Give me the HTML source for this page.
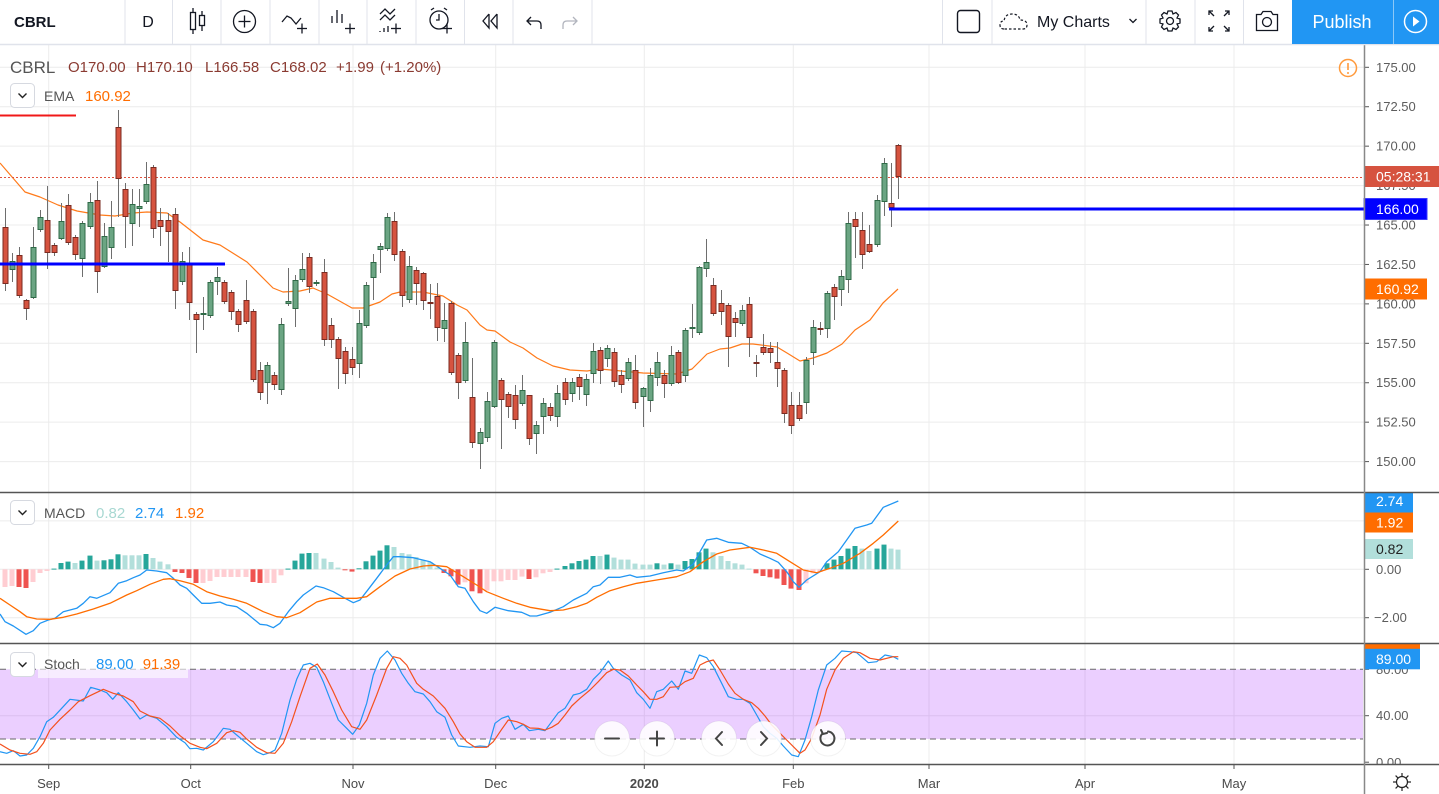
<!DOCTYPE html>
<html><head><meta charset="utf-8"><title>CBRL</title>
<style>
html,body{margin:0;padding:0;background:#fff;}
body{width:1439px;height:794px;overflow:hidden;font-family:"Liberation Sans",sans-serif;}
svg{display:block;font-family:"Liberation Sans",sans-serif;}
</style></head>
<body>
<svg id="c" xmlns="http://www.w3.org/2000/svg" width="1439" height="794" viewBox="0 0 1439 794">
<rect x="0" y="0" width="1439" height="794" fill="#fff"/>
<g id="grid" stroke="#ececec" stroke-width="1"></g>
<g id="band"></g>
<g id="ema"></g>
<!-- left red short line & blue line & price line -->
<line x1="0" y1="115.5" x2="76" y2="115.5" stroke="#f01818" stroke-width="2"/>
<line x1="0" y1="177.5" x2="1364" y2="177.5" stroke="#e0533f" stroke-width="1" stroke-dasharray="2,2"/>
<g id="wicks"></g>
<g id="bodies"></g>
<line x1="0" y1="264" x2="225" y2="264" stroke="#0000ff" stroke-width="3"/>
<line x1="889" y1="209" x2="1364" y2="209" stroke="#0000ff" stroke-width="3"/>
<g id="hist"></g>
<g id="macdl"></g>
<g id="stochl"></g>

<!-- legends -->
<text x="10" y="73" font-size="17" fill="#555">CBRL</text>
<g font-size="15" fill="#8a3a31">
<text x="68" y="72">O170.00</text>
<text x="136" y="72">H170.10</text>
<text x="205" y="72">L166.58</text>
<text x="270" y="72">C168.02</text>
<text x="336" y="72">+1.99</text>
<text x="380" y="72">(+1.20%)</text>
</g>
<rect x="10.5" y="83.5" width="24" height="24" rx="4" fill="#fff" stroke="#d6d9e0"/>
<polyline points="18.5,93.5 22.5,97.5 26.5,93.5" fill="none" stroke="#222" stroke-width="1.4"/>
<text x="44" y="101" font-size="14" fill="#555">EMA</text>
<text x="85" y="101" font-size="15" fill="#ff6d00">160.92</text>

<rect x="10.5" y="500.5" width="24" height="24" rx="4" fill="#fff" stroke="#d6d9e0"/>
<polyline points="18.5,510.5 22.5,514.5 26.5,510.5" fill="none" stroke="#222" stroke-width="1.4"/>
<text x="44" y="518" font-size="14" fill="#555">MACD</text>
<text x="96" y="518" font-size="15" fill="#a8d8d2">0.82</text>
<text x="135" y="518" font-size="15" fill="#2196f3">2.74</text>
<text x="175" y="518" font-size="15" fill="#ff6d00">1.92</text>

<rect x="38" y="656" width="150" height="22" fill="rgba(255,255,255,0.6)"/>
<rect x="10.5" y="652.5" width="24" height="24" rx="4" fill="#fff" stroke="#d6d9e0"/>
<polyline points="18.5,662.5 22.5,666.5 26.5,662.5" fill="none" stroke="#222" stroke-width="1.4"/>
<text x="44" y="669" font-size="14" fill="#555">Stoch</text>
<text x="96" y="669" font-size="15" fill="#2196f3">89.00</text>
<text x="142.7" y="669" font-size="15" fill="#ff6d00">91.39</text>

<!-- alert icon -->
<circle cx="1348" cy="68" r="8.5" fill="none" stroke="#ff9a3c" stroke-width="1.5"/>
<line x1="1348" y1="63" x2="1348" y2="70" stroke="#ff9a3c" stroke-width="1.6"/>
<circle cx="1348" cy="73" r="1" fill="#ff9a3c"/>

<!-- right axis -->
<rect x="1365" y="45" width="74" height="720" fill="#fff"/>
<g id="ticks" stroke="#555" stroke-width="1"></g>
<g font-size="13" fill="#5d5d5d">
<text x="1376" y="71.8">175.00</text>
<text x="1376" y="111.2">172.50</text>
<text x="1376" y="150.6">170.00</text>
<text x="1376" y="190.1">167.50</text>
<text x="1376" y="229.5">165.00</text>
<text x="1376" y="268.9">162.50</text>
<text x="1376" y="308.4">160.00</text>
<text x="1376" y="347.8">157.50</text>
<text x="1376" y="387.2">155.00</text>
<text x="1376" y="426.7">152.50</text>
<text x="1376" y="466.1">150.00</text>
<text x="1376" y="573.8">0.00</text>
<text x="1374" y="622.2">−2.00</text>
<text x="1376" y="673.8">80.00</text>
<text x="1376" y="720.2">40.00</text>
<text x="1376" y="767">0.00</text>
</g>
<rect x="1364" y="166" width="75" height="21" fill="#d6533f"/>
<text x="1376" y="181.5" font-size="14" fill="#fff">05:28:31</text>
<rect x="1364" y="198.5" width="63" height="21" fill="#0000ff" stroke="#3a3aff"/>
<text x="1376" y="214" font-size="14" fill="#fff">166.00</text>
<rect x="1364" y="278.5" width="63" height="21" fill="#ff6d00"/>
<text x="1376" y="294" font-size="14" fill="#fff">160.92</text>

<rect x="1364" y="492.7" width="49" height="20" fill="#2196f3"/>
<text x="1376" y="506" font-size="14" fill="#fff">2.74</text>
<rect x="1364" y="512.5" width="49" height="20" fill="#ff6d00"/>
<text x="1376" y="527.5" font-size="14" fill="#fff">1.92</text>
<rect x="1364" y="539" width="49" height="20" fill="#b2dfdb"/>
<text x="1376" y="554" font-size="14" fill="#222">0.82</text>

<rect x="1364" y="643" width="56" height="12" fill="#ff6d00"/>
<rect x="1364" y="648.8" width="56" height="20.5" fill="#2196f3"/>
<text x="1376" y="664" font-size="14" fill="#fff">89.00</text>

<!-- time axis -->
<rect x="0" y="765" width="1439" height="29" fill="#fff"/>
<g stroke="#555" stroke-width="1">
<line x1="48.7" y1="765" x2="48.7" y2="769"/>
<line x1="190.7" y1="765" x2="190.7" y2="769"/>
<line x1="353" y1="765" x2="353" y2="769"/>
<line x1="495.7" y1="765" x2="495.7" y2="769"/>
<line x1="644.3" y1="765" x2="644.3" y2="769"/>
<line x1="793.3" y1="765" x2="793.3" y2="769"/>
<line x1="929" y1="765" x2="929" y2="769"/>
<line x1="1085" y1="765" x2="1085" y2="769"/>
<line x1="1234" y1="765" x2="1234" y2="769"/>
</g>
<g font-size="13" fill="#4a4a4a" text-anchor="middle">
<text x="48.7" y="788">Sep</text>
<text x="190.7" y="788">Oct</text>
<text x="353" y="788">Nov</text>
<text x="495.7" y="788">Dec</text>
<text x="644.3" y="788" font-weight="bold">2020</text>
<text x="793.3" y="788">Feb</text>
<text x="929" y="788">Mar</text>
<text x="1085" y="788">Apr</text>
<text x="1234" y="788">May</text>
</g>
<!-- gear bottom right -->
<g transform="translate(1402,782)" fill="none" stroke="#222" stroke-width="1.2">
<circle r="5.5"/>
<line x1="0" y1="-9" x2="0" y2="-6"/><line x1="0" y1="6" x2="0" y2="9"/>
<line x1="-9" y1="0" x2="-6" y2="0"/><line x1="6" y1="0" x2="9" y2="0"/>
<line x1="-6.4" y1="-6.4" x2="-4.2" y2="-4.2"/><line x1="6.4" y1="6.4" x2="4.2" y2="4.2"/>
<line x1="-6.4" y1="6.4" x2="-4.2" y2="4.2"/><line x1="6.4" y1="-6.4" x2="4.2" y2="-4.2"/>
</g>

<!-- pane separators & axis -->
<g stroke="#555" stroke-width="1.5">
<line x1="0" y1="492.5" x2="1439" y2="492.5"/>
<line x1="0" y1="643.5" x2="1439" y2="643.5"/>
<line x1="0" y1="764.5" x2="1439" y2="764.5"/>
</g>
<line x1="1364.5" y1="45" x2="1364.5" y2="794" stroke="#888" stroke-width="1.5"/>

<!-- zoom buttons -->
<g>
<circle cx="612" cy="738.5" r="17.5" fill="rgba(255,255,255,0.88)" stroke="rgba(0,0,0,0.05)"/>
<circle cx="657" cy="738.5" r="17.5" fill="rgba(255,255,255,0.88)" stroke="rgba(0,0,0,0.05)"/>
<circle cx="719" cy="738.5" r="17.5" fill="rgba(255,255,255,0.88)" stroke="rgba(0,0,0,0.05)"/>
<circle cx="764" cy="738.5" r="17.5" fill="rgba(255,255,255,0.88)" stroke="rgba(0,0,0,0.05)"/>
<circle cx="828" cy="738.5" r="17.5" fill="rgba(255,255,255,0.88)" stroke="rgba(0,0,0,0.05)"/>
<g stroke="#444" stroke-width="2" fill="none" stroke-linecap="round">
<line x1="605" y1="738.5" x2="619" y2="738.5"/>
<line x1="650" y1="738.5" x2="664" y2="738.5"/><line x1="657" y1="731.5" x2="657" y2="745.5"/>
<polyline points="722,732 716,738.5 722,745"/>
<polyline points="761,732 767,738.5 761,745"/>
<path d="M822.5,733.5 A7,7 0 1 0 828,731.5"/>
<polyline points="821,730 823,734 827,733"/>
</g>
</g>

<!-- toolbar -->
<rect x="0" y="0" width="1439" height="44" fill="#fff"/>
<line x1="0" y1="44.5" x2="1439" y2="44.5" stroke="#e0e3eb" stroke-width="1.5"/>
<g stroke="#e0e3eb" stroke-width="1">
<line x1="125" y1="0" x2="125" y2="44"/><line x1="172.5" y1="0" x2="172.5" y2="44"/>
<line x1="221" y1="0" x2="221" y2="44"/><line x1="270" y1="0" x2="270" y2="44"/>
<line x1="319" y1="0" x2="319" y2="44"/><line x1="367" y1="0" x2="367" y2="44"/>
<line x1="416" y1="0" x2="416" y2="44"/><line x1="464.5" y1="0" x2="464.5" y2="44"/>
<line x1="513" y1="0" x2="513" y2="44"/><line x1="592" y1="0" x2="592" y2="44"/>
<line x1="942.5" y1="0" x2="942.5" y2="44"/><line x1="992" y1="0" x2="992" y2="44"/>
<line x1="1146" y1="0" x2="1146" y2="44"/><line x1="1195" y1="0" x2="1195" y2="44"/>
<line x1="1243.5" y1="0" x2="1243.5" y2="44"/>
</g>
<text x="14" y="27" font-size="15" font-weight="bold" fill="#131722">CBRL</text>
<text x="148" y="27" font-size="16" fill="#131722" text-anchor="middle">D</text>
<g fill="none" stroke="#131722" stroke-width="1.3">
<!-- candles icon -->
<line x1="193" y1="8" x2="193" y2="34"/><rect x="190.5" y="12.5" width="5" height="17" fill="#fff"/>
<line x1="202" y1="11" x2="202" y2="31"/><rect x="199.5" y="15.5" width="5" height="10" fill="#fff"/>
<!-- plus circle -->
<circle cx="244.5" cy="21.5" r="11"/><line x1="238.5" y1="21.5" x2="250.5" y2="21.5"/><line x1="244.5" y1="15.5" x2="244.5" y2="27.5"/>
<!-- indicators -->
<polyline points="282,22 287,16 291,18 296,24 301,18"/>
<line x1="297" y1="28.5" x2="307" y2="28.5"/><line x1="302" y1="23.5" x2="302" y2="33.5"/>
<!-- bars -->
<line x1="332" y1="16" x2="332" y2="23"/><line x1="337" y1="10" x2="337" y2="23"/><line x1="342" y1="14" x2="342" y2="23"/>
<line x1="345" y1="28.5" x2="355" y2="28.5"/><line x1="350" y1="23.5" x2="350" y2="33.5"/>
<!-- multi -->
<polyline points="380,14 385,9 390,14 395,9"/><polyline points="380,20 385,15 390,20 395,15"/>
<line x1="380" y1="31" x2="380" y2="32"/><line x1="384" y1="28" x2="384" y2="32"/><line x1="388" y1="26" x2="388" y2="32"/>
<line x1="391" y1="28.5" x2="401" y2="28.5"/><line x1="396" y1="23.5" x2="396" y2="33.5"/>
<!-- alarm -->
<circle cx="439" cy="20" r="9"/><polyline points="439,14 439,20 436,20"/>
<line x1="431" y1="10" x2="434" y2="8"/><line x1="447" y1="10" x2="444" y2="8"/>
<line x1="442" y1="28.5" x2="452" y2="28.5"/><line x1="447" y1="23.5" x2="447" y2="33.5"/>
<!-- rewind -->
<polyline points="489,14 483,21 489,28 489,14"/><polyline points="497,14 491,21 497,28 497,14"/>
<!-- undo -->
<path d="M531,17 L527,21 L531,25 M527,21 L537,21 Q541,21 541,25 L541,29"/>
</g>
<path d="M573,17 L577,21 L573,25 M577,21 L567,21 Q563,21 563,25 L563,29" fill="none" stroke="#b2b5be" stroke-width="1.3"/>
<!-- right toolbar -->
<rect x="957.5" y="10.5" width="22" height="22" rx="3" fill="none" stroke="#131722" stroke-width="1.4"/>
<path d="M1004,29 Q1000,29 1000,25 Q1000,21 1004,21 Q1005,14 1012,14 Q1019,14 1020,20 Q1027,20 1027,25 Q1027,29 1023,29 Z" fill="none" stroke="#131722" stroke-width="1.2" stroke-dasharray="2.5,2"/>
<text x="1037" y="27" font-size="16" fill="#131722">My Charts</text>
<polyline points="1129.5,19 1133,22.5 1136.5,19" fill="none" stroke="#131722" stroke-width="1.3"/>
<g transform="translate(1170,21)" fill="none" stroke="#131722" stroke-width="1.3">
<path d="M-2,-10 L2,-10 L3,-7 L6,-8.5 L8.5,-6 L7,-3 L10,-2 L10,2 L7,3 L8.5,6 L6,8.5 L3,7 L2,10 L-2,10 L-3,7 L-6,8.5 L-8.5,6 L-7,3 L-10,2 L-10,-2 L-7,-3 L-8.5,-6 L-6,-8.5 L-3,-7 Z"/>
<circle r="3.5"/>
</g>
<g fill="none" stroke="#131722" stroke-width="1.3">
<polyline points="1209,15 1209,11 1213,11"/><line x1="1209" y1="11" x2="1214" y2="16"/>
<polyline points="1229,15 1229,11 1225,11"/><line x1="1229" y1="11" x2="1224" y2="16"/>
<polyline points="1209,27 1209,31 1213,31"/><line x1="1209" y1="31" x2="1214" y2="26"/>
<polyline points="1229,27 1229,31 1225,31"/><line x1="1229" y1="31" x2="1224" y2="26"/>
<path d="M1256.5,14.5 L1261,14.5 L1263,11.5 L1271,11.5 L1273,14.5 L1277.5,14.5 L1277.5,30.5 L1256.5,30.5 Z"/>
<circle cx="1267" cy="22" r="4.5"/>
</g>
<rect x="1292" y="0" width="147" height="44" fill="#2196f3"/>
<line x1="1393.5" y1="0" x2="1393.5" y2="44" stroke="#8cc8f7" stroke-width="1"/>
<text x="1342" y="28" font-size="18" fill="#fff" text-anchor="middle">Publish</text>
<circle cx="1415.5" cy="21.5" r="11" fill="none" stroke="#fff" stroke-width="1.5"/>
<polygon points="1413,16.5 1419.5,21.5 1413,26.5" fill="#fff"/>
</svg>
<script>
(function(){
var NS='http://www.w3.org/2000/svg';
function mk(p,tag,a){var e=document.createElementNS(NS,tag);for(var k in a)e.setAttribute(k,a[k]);p.appendChild(e);return e;}
function $(id){return document.getElementById(id);}
// grid
var g=$('grid');
for(var k=0;k<=10;k++){var y=67.3+k*39.43;mk(g,'line',{x1:0,y1:y,x2:1364,y2:y});}
[520.9,569.3,617.7,715.7].forEach(function(y){mk(g,'line',{x1:0,y1:y,x2:1364,y2:y});});
[48.7,190.7,353,495.7,644.3,793.3,929,1085,1234].forEach(function(x){mk(g,'line',{x1:x,y1:45,x2:x,y2:764});});
var tk=$('ticks');
for(var k=0;k<=10;k++){var y=67.3+k*39.43;mk(tk,'line',{x1:1364,y1:y,x2:1369,y2:y});}
[520.9,569.3,617.7,669.3,715.7,762.2].forEach(function(y){mk(tk,'line',{x1:1364,y1:y,x2:1369,y2:y});});
// band
var b=$('band');
mk(b,'rect',{x:0,y:669.3,width:1363,height:69.7,fill:'rgba(149,0,255,0.19)'});
mk(b,'line',{x1:0,y1:669.3,x2:1363,y2:669.3,stroke:'#6a6a6a','stroke-dasharray':'6,4','stroke-width':1});
mk(b,'line',{x1:0,y1:739,x2:1363,y2:739,stroke:'#6a6a6a','stroke-dasharray':'6,4','stroke-width':1});
function pl(id,pts,col,w){var s=[];for(var i=0;i<pts.length;i+=2)s.push(pts[i]+','+pts[i+1]);mk($(id),'polyline',{points:s.join(' '),fill:'none',stroke:col,'stroke-width':w||1.2,'stroke-linejoin':'round'});}
pl('ema',[0,163,25,192,40,197,58,205,77,211,100,215,115,216,133,213,147,212,167,213,180,222,203,240,220,245,247,262,273,288,283,292,300,291,313,288,327,294,352,308,363,308,380,302,392,294,400,292,423,292,443,296,457,305,467,310,480,325,487,330,495,331,510,342,523,348,537,358,553,366,570,370,587,371,600,369,643,373,677,374,692,369,707,354,720,349,730,348,742,344,753,344,777,347,787,353,800,361,813,358,827,353,842,344,855,330,870,320,883,303,898,289],'#ff7a1a',1.2);
var K=[[0,227,284,208,291],[1,261,270,253,282],[0,255,296,247,298],[0,300,309,299,320],[1,247,298,227,299],[1,217,230,210,232],[0,220,253,186,269],[0,245,253,243,256],[1,221,239,203,240],[0,205,243,194,245],
[0,237,255,235,260],[1,223,259,221,277],[1,202,227,193,229],[0,200,272,181,293],[1,236,267,223,268],[1,227,248,201,259],[0,127,179,110,217],[0,189,217,183,248],[1,204,224,189,246],[1,206,209,189,227],
[1,184,202,162,204],[0,167,229,165,238],[0,220,227,208,246],[0,220,232,213,262],[0,214,291,208,309],[1,261,282,252,285],[0,263,303,247,320],[0,314,320,312,353],[1,313,314,297,330],[1,282,316,280,318],
[1,277,282,267,295],[0,282,302,280,304],[0,292,312,290,320],[0,311,325,309,332],[0,300,322,280,324],[0,311,380,309,382],[0,370,393,362,400],[1,365,383,362,404],[0,375,385,372,390],[1,324,390,318,395],
[1,301,304,268,306],[1,280,309,275,327],[1,269,280,253,282],[0,257,287,253,293],[1,282,284,280,286],[0,272,340,259,346],[0,325,340,318,348],[0,339,359,337,389],[0,351,374,347,384],[0,359,368,347,375],
[1,323,364,310,378],[1,285,326,282,328],[1,262,278,254,300],[1,246,250,243,273],[1,217,249,213,251],[0,221,255,212,261],[0,251,296,249,307],[1,266,300,256,303],[0,270,284,267,305],[0,273,301,272,310],
[0,302,303,284,319],[0,296,328,283,341],[1,320,329,303,342],[0,303,373,301,375],[0,355,383,353,399],[1,342,381,322,383],[0,397,443,358,448],[1,432,444,428,469],[1,401,438,392,442],[1,342,407,340,408],
[0,380,400,378,449],[0,394,407,392,418],[0,395,420,385,429],[1,390,404,375,406],[0,395,439,395,445],[1,425,434,421,454],[1,403,417,398,434],[0,407,416,403,421],[1,393,417,385,427],[0,382,400,378,405],
[1,382,394,378,402],[0,377,387,374,400],[1,379,395,374,406],[1,351,374,343,383],[0,350,371,347,384],[1,348,359,345,367],[0,352,382,348,387],[0,375,385,370,393],[1,362,379,358,381],[0,370,403,355,409],
[1,388,397,387,427],[1,375,401,368,412],[1,362,378,352,386],[0,375,384,370,398],[1,355,384,346,386],[0,352,383,350,384],[1,330,376,328,382],[1,327,328,304,338],[1,267,333,266,335],[1,262,269,239,277],
[0,285,314,278,316],[0,303,312,290,325],[0,305,337,303,367],[0,318,323,312,337],[1,310,324,305,326],[0,304,338,297,357],[0,362,364,355,377],[0,347,353,334,355],[0,348,353,342,363],[0,362,369,342,387],
[0,370,414,368,423],[0,405,426,392,434],[0,405,419,392,421],[1,360,403,357,414],[1,327,353,320,365],[0,328,329,322,335],[1,293,329,291,338],[0,287,297,284,320],[1,276,290,270,306],[1,223,280,212,293],
[0,219,227,212,258],[0,230,255,212,269],[0,244,252,225,253],[1,200,245,195,247],[1,163,202,158,216],[0,203,208,163,227],[0,145,177,144,199]];
var n=K.length,dx=893.3/(n-1),wp='';
var gB=$('bodies');
K.forEach(function(c,i){var x=Math.round(4.5+i*dx);wp+='M'+(x+0.5)+' '+c[3]+'V'+c[4];
mk(gB,'rect',{x:x-2,y:c[1]+0.5,width:5,height:Math.max(1,c[2]-c[1]-1),fill:c[0]?'#6ba583':'#d6533f',stroke:c[0]?'#2f6a47':'#7a2b21','stroke-width':1});});
mk($('wicks'),'path',{d:wp,stroke:'#6e6e6e','stroke-width':1,fill:'none'});
// histogram
var H=[-17.7,-16.7,-17.7,-18.7,-12.7,-3.7,-1.7,0.7,6.3,7.7,6.3,8.7,13.7,8.7,9,10,15,14,14,14,15.3,11.3,7.7,5,-2.7,-3.7,-8.7,-13.7,-13.7,-11.7,-7.7,-7.7,-7.7,-7.7,-7.7,-12.7,-13.7,-13.7,-13.7,-6,0.7,8.7,15.7,16.3,16.3,10.7,7.3,1.7,-1,-2.3,1,8,13.7,18.7,24,22.3,16.3,15,12.3,9,7.3,1.7,-3.7,-7,
-15.3,-13,-22,-24,-21.3,-12,-12,-10.7,-10.7,-7.3,-9.7,-8,-4,-2.7,0.7,3.3,6,8.3,9.7,13.3,13.3,14.7,11.7,9.7,9.7,5.7,4.7,4.7,6,4.7,6,4.7,8.3,10.3,17,20.7,17,13.3,8.3,6,4.7,0.7,-4,-6.7,-8,-9.3,-15.7,-19.3,-20.7,-14,-4,-2.7,6,9.7,13.3,20.7,23.3,20.7,18.3,20.7,24.7,20.7,19.7];
var hd=893.3/(H.length-1),gh=$('hist'),z=569.3;
H.forEach(function(h,i){var x=Math.round(4.5+i*hd);var p=i?H[i-1]:h;var col;
if(h>=0)col=(h>p)?'#26a69a':'#b2dfdb';else col=(h<p)?'#ef5350':'#ffcdd2';
var y=h>=0?z-h:z;mk(gh,'rect',{x:x-2.5,y:y,width:5,height:Math.max(1,Math.abs(h)),fill:col});});
pl('macdl',[0,614,5,621.7,13.3,626,26,634.3,33.3,630.7,40,623.3,48.3,620,55,618.3,63.3,611.7,76.7,608.3,83.3,603.3,90,596.7,96.7,598.3,110,592.7,118.3,583.3,126.7,580.7,133.3,577.7,140,575,146.7,570,156.7,571,166.7,572.7,173.3,578.3,180,585,186.7,588.3,193.3,595,201.7,603.3,210,603.3,220,602,226.7,605,236.7,606.7,246.7,613.3,260,624.3,266.7,625,273.3,627.7,280,623.3,288.3,611.7,296.7,601.7,303.3,595,316,586,323.3,587.7,333.3,591.7,343.3,597.3,353.3,602.7,360,600,368.3,589.3,376.7,578.3,386.7,565,393.3,556.7,400,556.7,413.3,557.7,430,561.7,440,568.3,450,575,458.3,586.7,465,588.3,473.3,601.7,480,610.7,486.7,613.3,495,607.3,508.3,610.7,521.7,612.3,530,616,536.7,616,550,612.3,563.3,606.7,573.3,600,586.7,593.3,593.3,586.7,600,585,608.3,577.3,620,577.3,630,575,636.7,577.3,650,576,663.3,572.7,676.7,570,683.3,571,693.3,564,700,551.7,706.7,540,716.7,538.3,728.3,542.3,741.7,543.3,750,547.3,760,554,770,558.3,778.3,562.3,786.7,571.7,793.3,581.7,799,587.3,806.7,580,820,571.7,826.7,561.7,838.3,551.7,846.7,540,855,528.3,866.7,525,871.7,523.3,883.3,507.3,898.3,501],'#2196f3',1.3);
pl('macdl',[0,598.3,10,605,20,611.7,26.7,616.7,36.7,619,50,619.3,63.3,617.3,76.7,614,93.3,609,110,603.3,126.7,595,136.7,590.7,150,584.3,163.3,579.3,170,578.7,180,580.7,193.3,584.3,206.7,591.7,220,596,233.3,599.3,246.7,603.3,263.3,611.7,276.7,616.7,286.7,617.7,300,612.7,316.7,602,330,598.3,343.3,598.3,356.7,598.3,366.7,596.7,380,586.7,395,576,410,569,423.3,566,433.3,565.3,446.7,566.7,463.3,576.7,476.7,585,486.7,591.7,503.3,598.3,516.7,603.3,530,607.3,550,610.7,563.3,610,576.7,606.7,586.7,603.3,596.7,597.3,610,590.7,623.3,586.7,636.7,583.3,656.7,580,676.7,576.7,690,571.7,703.3,561.7,716.7,554,730,550,750,547.3,763.3,550,776.7,553.3,790,561.7,803.3,570,816.7,572.7,830,568.3,843.3,563.3,860,553.3,873.3,543.3,883.3,535,898.3,521],'#ff6d00',1.3);
pl('stochl',[0,751.7,6.7,753.3,13.3,750.7,20,756,26.7,755,33.3,748.3,40,736.7,46.7,721.7,53.3,717.3,61.7,708.3,70,699.3,83.3,701,90.7,687.3,100,690,106.7,692.7,112.7,699.3,118.3,692.7,126.7,701.7,133.3,710,140,719,146.7,715,156.7,718.3,166.7,726.7,176.7,737.3,185,742.7,190,748.7,196.7,748.3,203.3,750,213.3,741.7,223.3,728.3,230,729.3,236.7,735,246.7,743.3,256.7,751.7,263.3,754.7,270,752.7,275,750,281.7,733.3,290,700,296.7,679.3,303.3,665,310,663.3,316.7,667.3,323.3,681.7,331.7,703.3,338.3,720,346.7,728.3,352.7,734.3,359.3,725,366.7,703.3,373.3,675,380,658.3,387.3,651,395,660,401.7,673.3,408.3,683.3,415,691.7,423.3,694,430,701.7,436.7,711.7,445,717.3,451.7,735,458.3,746,470,747.3,480,746,488.3,746.7,495,723.3,501.7,718.3,508.3,716,515,729.3,523.3,724.3,529.3,730.7,538.3,729.3,545,730.7,551.7,721.7,558.3,712.7,565,708.3,573.3,695,580,693.3,586.7,689.3,593.3,679.3,600,672.7,608.3,661,613.3,668.3,621.7,675,630,680,636.7,692.7,643.3,699.3,650,708.3,656.7,691.7,663.3,689.3,671.7,681,678.3,689.3,685,671,691.7,673.3,699.3,655,706.7,657.7,713.3,666.7,721.7,683.3,728.3,696.7,736.7,699.3,743.3,699.3,750,703.3,756.7,715,763.3,726.7,770,733.3,776.7,738.3,783.3,746,791.7,755,798.3,756.7,805,740,811.7,716.7,818.3,690,826.7,665,835,658.3,841.7,651,850,651.7,856.7,652.7,863.3,658.3,868.3,662.7,876.7,661.7,885,655,893.3,656.7,898.3,659.3],'#2196f3',1.2);
pl('stochl',[0,744,10,750,20,753.3,30,754.3,36.7,751.7,43.3,743.3,50,730,60,719.3,70,710,78.3,701.7,90,695.7,103.3,689.3,113.3,693.3,123.3,696,133.3,701.7,140,711,150,716,160,718.3,170,726,180,735.7,190,743.3,200,747.3,206.7,748.7,216.7,743.3,226.7,732.7,233.3,730.7,240,732.3,246.7,739,256.7,747.3,266.7,752.7,275,753.3,283.3,743.3,291.7,721.7,300,696.7,310,668.3,317.3,664,325,675,333.3,691.7,341.7,710,351.7,726.7,360,729.3,366.7,720,376.7,695,386.7,668.3,393.3,656.7,400,658.3,406.7,665,416.7,683.3,423.3,689.3,433.3,696,445,708.3,453.3,721.7,460,734,466.7,741.7,475,747.3,486.7,747.3,493.3,741.7,501.7,729.3,508.3,720,516.7,721.7,523.3,724.3,530,728,538.3,728.3,545,730,551.7,727.3,558.3,723.3,565,715,571.7,706,580,698.3,590,690,598.3,681.7,606.7,672.7,613.3,669.3,620,670,628.3,676,636.7,685,643.3,691.7,650,699.3,656.7,699.3,663.3,696.7,670,687.3,678.3,686.7,685,681.7,693.3,678.3,700,665,706.7,661.7,713.3,660,720,670,728.3,684,735,693.3,743.3,699.3,751.7,702.7,758.3,708.3,765,716,771.7,725,780,733.3,786.7,740,800,753.3,805,750,811.7,738.3,820,715,826.7,689.3,835,670,843.3,658.3,853.3,651.7,860,652.7,870,658.3,880,660,893.3,656.7,898.3,656.7],'#f4511e',1.2);
})();
</script>
</body></html>
